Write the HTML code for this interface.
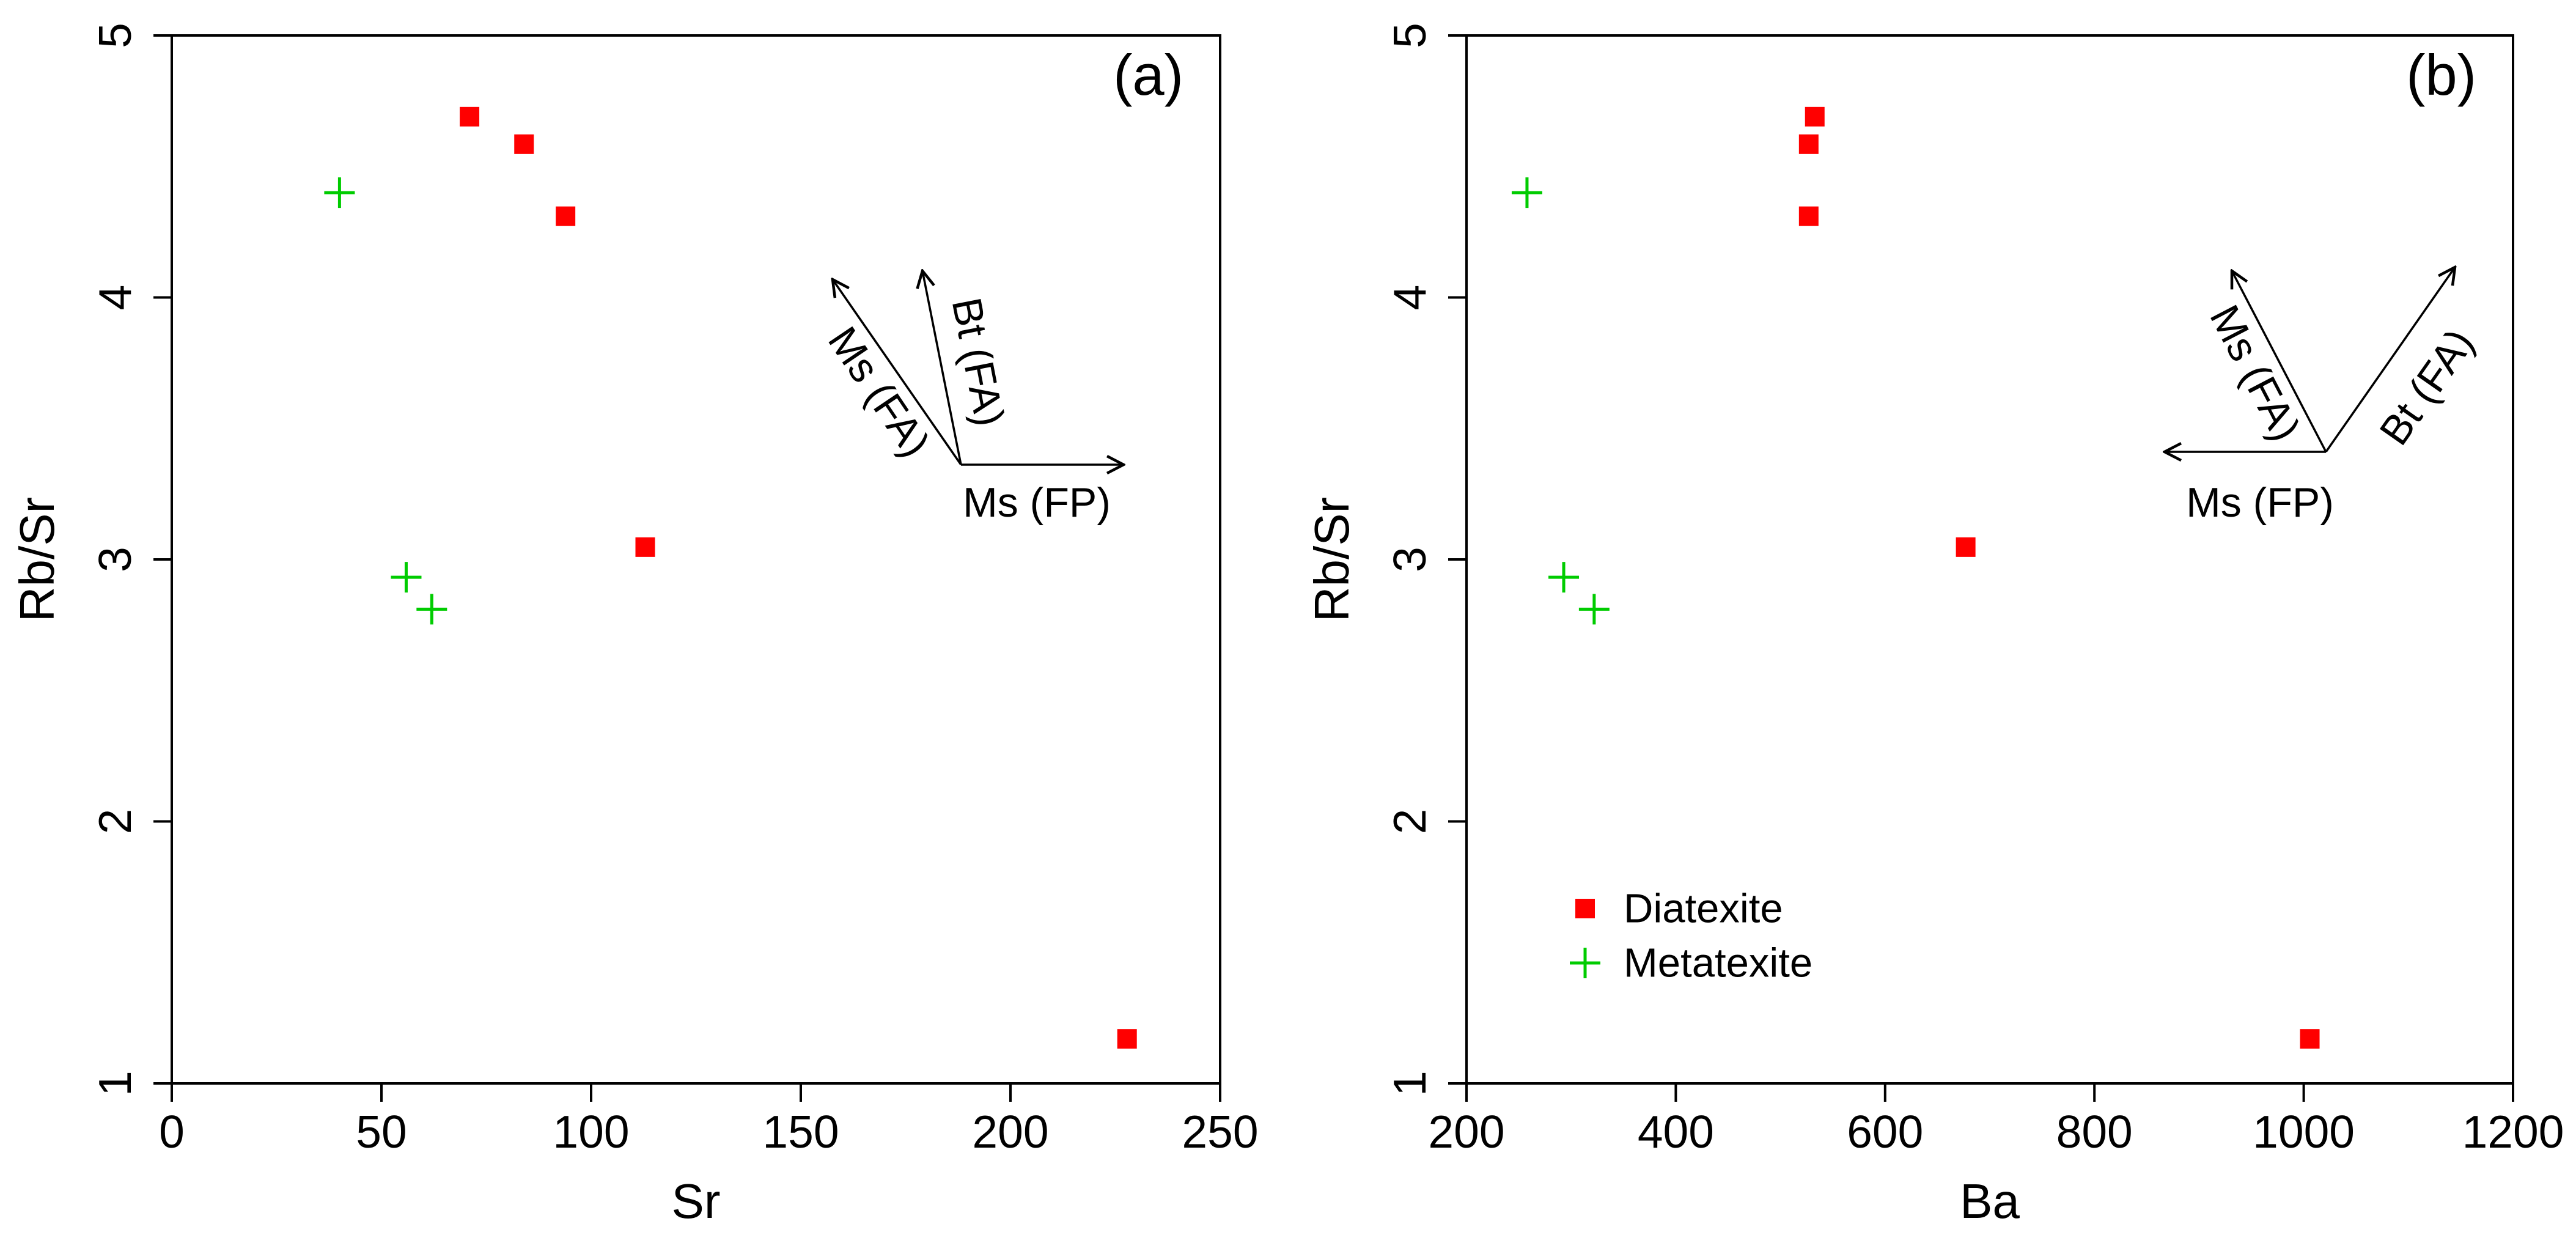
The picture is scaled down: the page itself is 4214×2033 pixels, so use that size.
<!DOCTYPE html>
<html><head><meta charset="utf-8"><style>
html,body{margin:0;padding:0;background:#fff;}
svg{display:block;font-family:"Liberation Sans",Arial,sans-serif;}
</style></head><body>
<svg id="chart" width="4214" height="2033" viewBox="0 0 4214 2033" xmlns="http://www.w3.org/2000/svg">
<defs>
<marker id="ah" viewBox="0 0 32 32" refX="29" refY="16" markerWidth="32" markerHeight="32" markerUnits="userSpaceOnUse" orient="auto">
<path d="M2,2 L29,16 L2,30" fill="none" stroke="#000" stroke-width="4.5"/>
</marker>
</defs>
<g id="plots"></g>
</svg>
<script>
const yTicks = [1, 2, 3, 4, 5];
const xTicksA = [0, 50, 100, 150, 200, 250];
const xTicksB = [200, 400, 600, 800, 1000, 1200];
const diaSr = [71.0, 84.0, 93.9, 112.9, 227.8];
const diaRbSrA = [4.69, 4.585, 4.31, 3.047, 1.17];
const metaSr = [40.0, 55.9, 62.0];
const metaRbSrA = [4.40, 2.932, 2.81];
const diaBa = [532.8, 527, 527, 677, 1005.8];
const diaRbSrB = [4.69, 4.585, 4.31, 3.047, 1.17];
const metaBa = [257.8, 292.9, 322];
const metaRbSrB = [4.40, 2.932, 2.81];

const NS = 'http://www.w3.org/2000/svg';
const root = document.getElementById('plots');
function mk(tag, attrs, parent) {
  const e = document.createElementNS(NS, tag);
  for (const k in attrs) e.setAttribute(k, attrs[k]);
  (parent || root).appendChild(e);
  return e;
}
const TOP = 58, BOT = 1772;
function yS(v) { return BOT - (v - 1) / 4 * (BOT - TOP); }

function panel(p) {
  const g = mk('g', {});
  
  
  const xS = v => p.L + (v - p.x0) / (p.x1 - p.x0) * (p.R - p.L);
  const box = mk('rect', {x: p.L, y: TOP, width: p.R - p.L, height: BOT - TOP, fill: 'none', stroke: '#000', 'stroke-width': 4}, g);
  
  
  p.xt.forEach(v => {
    const x = xS(v);
    const t = mk('line', {x1: x, x2: x, y1: BOT, y2: BOT + 30, stroke: '#000', 'stroke-width': 4}, g);
    
    
    const l = mk('text', {x: x, y: 1877, 'font-size': 75, 'text-anchor': 'middle'}, g);
    l.textContent = v;
    
    
  });
  yTicks.forEach(v => {
    const y = yS(v);
    const t = mk('line', {x1: p.L - 30, x2: p.L, y1: y, y2: y, stroke: '#000', 'stroke-width': 4}, g);
    
    
    const lx = p.L - 67;
    const l = mk('text', {x: lx, y: y, 'font-size': 75, 'text-anchor': 'middle', transform: 'rotate(-90 ' + lx + ' ' + y + ')'}, g);
    l.textContent = v;
    
    
  });
  const cx = (p.L + p.R) / 2;
  const xt = mk('text', {x: cx, y: 1992, 'font-size': 80, 'text-anchor': 'middle'}, g);
  xt.textContent = p.xlab;
  
  
  const ytx = p.L - 193, yty = (TOP + BOT) / 2;
  const yt = mk('text', {x: ytx, y: yty, 'font-size': 80, 'text-anchor': 'middle', transform: 'rotate(-90 ' + ytx + ' ' + yty + ')'}, g);
  yt.textContent = 'Rb/Sr';
  
  
  const pl = mk('text', {x: p.R - 60, y: 155, 'font-size': 94, 'text-anchor': 'end'}, g);
  pl.textContent = p.tag;
  
  
  p.dx.forEach((v, i) => {
    const s = mk('rect', {x: xS(v) - 16, y: yS(p.dy[i]) - 16, width: 32, height: 32, fill: '#ff0000'}, g);
    
    
  });
  p.mx.forEach((v, i) => {
    const x = xS(v), y = yS(p.my[i]);
    const c = mk('path', {d: 'M' + (x - 25) + ',' + y + 'H' + (x + 25) + 'M' + x + ',' + (y - 25) + 'V' + (y + 25), stroke: '#00cc00', 'stroke-width': 5, fill: 'none'}, g);
    
    
  });
  p.arrows.forEach(a => {
    const ln = mk('line', {x1: a[0], y1: a[1], x2: a[2], y2: a[3], stroke: '#000', 'stroke-width': 3.5, 'marker-end': 'url(#ah)'}, g);
    
    
  });
  p.alabels.forEach(a => {
    const t = mk('text', {x: a[1], y: a[2], 'font-size': 68, 'text-anchor': 'middle', 'dominant-baseline': 'central', transform: 'rotate(' + a[3] + ' ' + a[1] + ' ' + a[2] + ')'}, g);
    t.textContent = a[0];
    
    
  });
}

panel({name: 'panel-a', tag: '(a)', L: 281, R: 1996, x0: 0, x1: 250, xt: xTicksA, xlab: 'Sr',
  dx: diaSr, dy: diaRbSrA, mx: metaSr, my: metaRbSrA,
  arrows: [[1572, 760, 1838, 760], [1572, 760, 1362, 457], [1572, 760, 1509, 443]],
  alabels: [['Ms (FP)', 1696, 822, 0], ['Ms (FA)', 1438, 641, 56], ['Bt (FA)', 1600, 592, 79]]});
panel({name: 'panel-b', tag: '(b)', L: 2399, R: 4111, x0: 200, x1: 1200, xt: xTicksB, xlab: 'Ba',
  dx: diaBa, dy: diaRbSrB, mx: metaBa, my: metaRbSrB,
  arrows: [[3805, 739, 3541, 739], [3805, 739, 3651, 443], [3805, 739, 4016, 437]],
  alabels: [['Ms (FP)', 3697, 822, 0], ['Ms (FA)', 3689, 610, 62.5], ['Bt (FA)', 3970, 633, -55]]});

const lg = mk('g', {});


const ls = mk('rect', {x: 2577, y: 1470, width: 32, height: 32, fill: '#ff0000'}, lg);


const lt1 = mk('text', {x: 2656, y: 1486, 'font-size': 67, 'dominant-baseline': 'central'}, lg);
lt1.textContent = 'Diatexite';


const lp = mk('path', {d: 'M2568,1575H2618M2593,1550V1600', stroke: '#00cc00', 'stroke-width': 5, fill: 'none'}, lg);


const lt2 = mk('text', {x: 2656, y: 1575, 'font-size': 67, 'dominant-baseline': 'central'}, lg);
lt2.textContent = 'Metatexite';


</script>
</body></html>
